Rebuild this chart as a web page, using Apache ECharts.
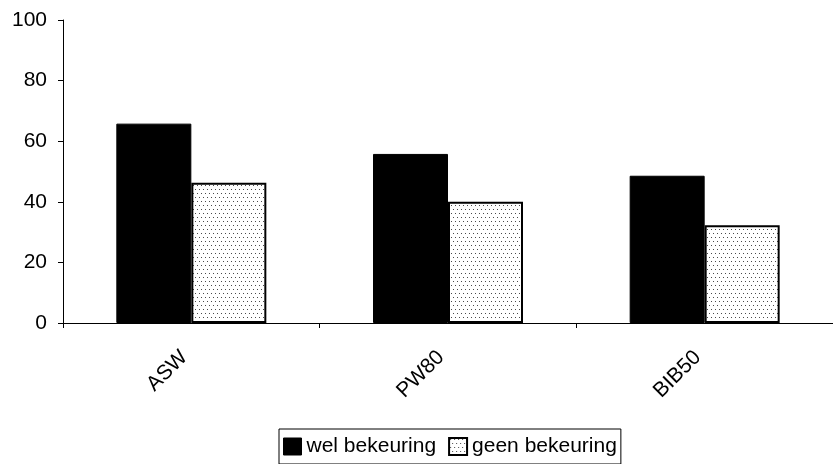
<!DOCTYPE html>
<html>
<head>
<meta charset="utf-8">
<script src="https://cdn.jsdelivr.net/npm/echarts@6/dist/echarts.min.js"></script>
<style>
  html, body { margin: 0; padding: 0; background: #fff; }
  #chart { width: 833px; height: 464px; }
</style>
</head>
<body>
<div id="chart"></div>
<script>
// Categories and values
const categories = ['ASW', 'PW80', 'BIB50'];
const welBekeuring = [65.8, 55.8, 48.6];
const geenBekeuring = [46.3, 40.0, 32.3];
const yTicks = { min: 0, max: 100, interval: 20 };
const seriesNames = ['wel bekeuring', 'geen bekeuring'];

// Small stippled tile used as the fill of the second series
function dotPattern() {
  const c = document.createElement('canvas');
  c.width = 8; c.height = 8;
  const g = c.getContext('2d');
  g.fillStyle = '#ffffff';
  g.fillRect(0, 0, 8, 8);
  g.fillStyle = '#4a4a4a';
  [[1, 1], [5, 1], [3, 5], [7, 5]].forEach(([x, y]) => g.fillRect(x, y, 1, 1));
  return c;
}
const stipple = { image: dotPattern(), repeat: 'repeat' };

const font = '"Liberation Sans", Arial, sans-serif';
const chart = echarts.init(document.getElementById('chart'), null, { renderer: 'canvas' });

chart.setOption({
  animation: false,
  backgroundColor: '#ffffff',
  grid: { left: 63, top: 20, width: 780, height: 303, containLabel: false },
  legend: {
    left: 279, top: 429,
    orient: 'horizontal',
    itemWidth: 18, itemHeight: 17, itemGap: 12,
    padding: [7, 4, 7, 4],
    borderColor: '#000', borderWidth: 1,
    icon: 'rect',
    textStyle: { fontFamily: font, fontSize: 21, color: '#000' },
    data: [
      { name: seriesNames[0], itemStyle: { color: '#000', borderColor: '#000', borderWidth: 1 } },
      { name: seriesNames[1], itemStyle: { color: stipple, borderColor: '#000', borderWidth: 2 } }
    ]
  },
  xAxis: {
    type: 'category',
    data: categories,
    axisLine: { lineStyle: { color: '#000', width: 1 } },
    axisTick: { show: true, length: 5, lineStyle: { color: '#000' } },
    axisLabel: {
      rotate: 45, margin: 24, padding: [0, 10, 0, 0],
      fontFamily: font, fontSize: 21, color: '#000'
    }
  },
  yAxis: {
    type: 'value',
    min: yTicks.min, max: yTicks.max, interval: yTicks.interval,
    axisLine: { show: true, lineStyle: { color: '#000', width: 1 } },
    axisTick: { show: true, length: 5, lineStyle: { color: '#000' } },
    splitLine: { show: false },
    axisLabel: { margin: 16, fontFamily: font, fontSize: 21, color: '#000' }
  },
  series: [
    {
      name: seriesNames[0], type: 'bar', data: welBekeuring,
      barWidth: 75, barGap: '0%',
      itemStyle: { color: '#000', borderColor: '#000', borderWidth: 1 }
    },
    {
      name: seriesNames[1], type: 'bar', data: geenBekeuring,
      barWidth: 75,
      itemStyle: { color: stipple, borderColor: '#000', borderWidth: 2 }
    }
  ]
});
</script>
</body>
</html>
